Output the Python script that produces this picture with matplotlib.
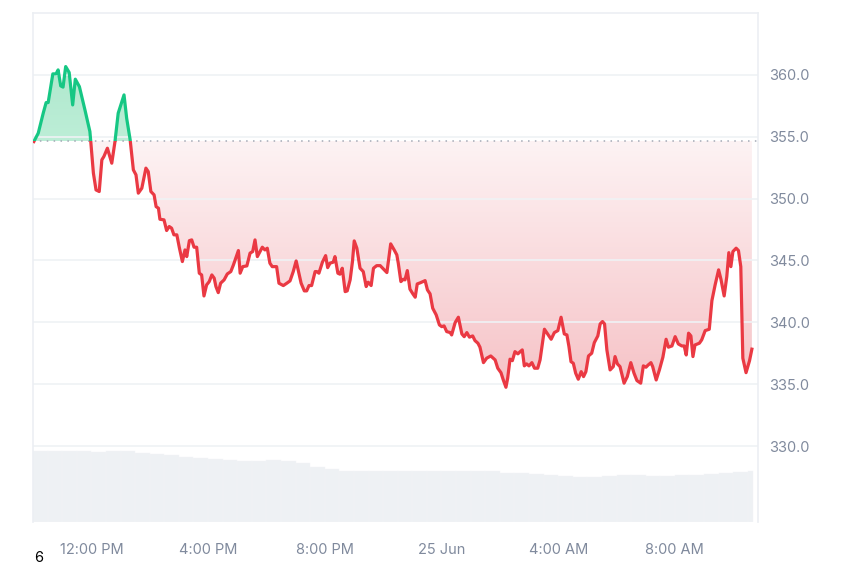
import numpy as np
import matplotlib.pyplot as plt
from matplotlib.path import Path
from matplotlib.patches import Rectangle
from matplotlib.colors import LinearSegmentedColormap

plt.rcParams['font.family'] = ['Inter', 'DejaVu Sans']

# hours since 24 Jun 10:00
hours = [0.03, 0.18, 0.35, 0.45, 0.52, 0.68, 0.79, 0.86, 0.95, 1.03, 1.12, 1.24, 1.36, 1.45, 1.59,
         1.78, 1.95, 1.98, 2.07, 2.16, 2.27, 2.36, 2.43, 2.55, 2.70, 2.81, 2.92, 3.12, 3.21, 3.33,
         3.44, 3.53, 3.61, 3.73, 3.87, 3.95, 4.04, 4.15, 4.22, 4.30, 4.35, 4.49, 4.58, 4.67, 4.75,
         4.83, 4.93, 5.02, 5.12, 5.21, 5.27, 5.36, 5.44, 5.52, 5.61, 5.70, 5.78, 5.86, 5.95, 6.04,
         6.13, 6.21, 6.27, 6.35, 6.43, 6.55, 6.66, 6.78, 6.87, 7.04, 7.10, 7.19, 7.33, 7.44, 7.53,
         7.61, 7.69, 7.78, 7.86, 7.95, 8.03, 8.12, 8.20, 8.35, 8.43, 8.58, 8.70, 8.81, 8.92, 9.02,
         9.10, 9.19, 9.30, 9.38, 9.46, 9.55, 9.67, 9.73, 9.80, 9.92, 10.03, 10.10, 10.18, 10.29, 10.35,
         10.45, 10.52, 10.60, 10.70, 10.77, 10.87, 10.95, 11.01, 11.10, 11.21, 11.32, 11.42, 11.49, 11.59, 11.67,
         11.78, 11.90, 12.04, 12.13, 12.26, 12.38, 12.47, 12.52, 12.61, 12.69, 12.75, 12.83, 12.92, 13.02, 13.10,
         13.17, 13.29, 13.44, 13.52, 13.61, 13.70, 13.82, 13.93, 14.01, 14.09, 14.18, 14.30, 14.35, 14.47, 14.58,
         14.70, 14.78, 14.87, 14.96, 15.07, 15.15, 15.25, 15.32, 15.44, 15.55, 15.69, 15.84, 15.93, 16.04, 16.12,
         16.21, 16.27, 16.35, 16.43, 16.52, 16.62, 16.70, 16.77, 16.84, 16.92, 17.00, 17.10, 17.19, 17.30, 17.38,
         17.53, 17.64, 17.76, 17.87, 17.99, 18.10, 18.21, 18.30, 18.37, 18.44, 18.52, 18.60, 18.69, 18.79, 18.87,
         18.95, 19.04, 19.15, 19.24, 19.36, 19.44, 19.52, 19.59, 19.67, 19.78, 19.89, 19.95, 20.03, 20.12, 20.26,
         20.37, 20.49, 20.60, 20.70, 20.83, 20.92, 21.01, 21.09, 21.18, 21.24, 21.36, 21.47, 21.59, 21.70, 21.78,
         21.90, 22.01, 22.12, 22.24, 22.32, 22.39, 22.47, 22.55, 22.62, 22.69, 22.84, 22.92, 23.04, 23.18, 23.27,
         23.38, 23.50, 23.58, 23.69, 23.78, 23.85, 23.92, 23.99, 24.10, 24.18, 24.26, 24.33, 24.44, 24.56, 24.64]

price = [354.61, 355.29, 356.90, 357.76, 357.76, 360.08, 360.08, 360.40, 359.11, 359.01, 360.67, 360.19, 357.57, 359.65, 359.05,
         357.17, 355.42, 354.61, 352.06, 350.70, 350.57, 353.13, 353.40, 354.07, 352.86, 354.61, 356.90, 358.38, 356.50, 354.75,
         352.32, 351.92, 350.44, 350.84, 352.46, 352.18, 350.57, 350.30, 349.35, 349.22, 348.33, 348.28, 347.42, 347.74, 347.61,
         347.07, 347.07, 345.99, 344.91, 345.85, 345.31, 346.60, 346.66, 346.07, 346.07, 343.97, 343.83, 342.13, 343.02, 343.29,
         343.83, 343.57, 342.89, 342.40, 343.16, 343.43, 343.91, 344.10, 344.64, 345.80, 343.97, 344.50, 344.56, 345.59, 345.72,
         346.66, 345.31, 345.72, 346.07, 345.85, 345.99, 344.78, 344.50, 344.50, 343.16, 342.97, 343.16, 343.35, 344.10, 344.96,
         344.10, 343.16, 342.54, 342.54, 342.97, 342.97, 344.10, 344.10, 343.97, 344.86, 345.39, 344.42, 344.78, 344.86, 345.31,
         343.97, 343.89, 344.37, 342.48, 342.54, 343.43, 344.91, 346.58, 345.99, 344.37, 344.10, 342.89, 343.24, 342.97, 344.37,
         344.58, 344.58, 344.24, 344.02, 346.34, 345.85, 345.45, 344.78, 343.29, 343.48, 343.43, 344.18, 342.68, 342.30, 342.03,
         343.10, 343.21, 343.37, 342.62, 342.30, 341.14, 340.60, 339.79, 339.65, 339.71, 339.25, 339.17, 338.98, 339.98, 340.41,
         339.06, 338.84, 339.17, 338.80, 338.90, 338.52, 338.31, 337.99, 336.74, 337.10, 337.28, 336.96, 336.29, 335.93, 335.34,
         334.75, 335.48, 337.02, 336.90, 337.63, 337.45, 337.63, 337.77, 336.48, 336.64, 336.48, 336.74, 336.29, 336.29, 336.96,
         339.44, 339.06, 338.63, 339.17, 339.33, 340.41, 339.06, 338.98, 338.04, 336.82, 336.69, 335.89, 335.40, 336.01, 335.61,
         336.01, 337.28, 337.50, 338.36, 338.90, 339.87, 340.06, 339.87, 337.77, 336.15, 336.42, 337.23, 336.64, 336.42, 335.08,
         335.61, 336.74, 335.89, 335.29, 335.08, 336.48, 336.37, 336.56, 336.74, 336.42, 335.34, 336.15, 337.18, 338.63, 337.99,
         338.09, 338.84, 338.25, 338.09, 338.09, 337.36, 339.12, 338.90, 337.23, 338.17, 338.31, 338.58, 339.33, 339.44, 341.75,
         343.02, 344.24, 343.48, 342.13, 343.69, 345.63, 344.50, 345.72, 345.99, 345.80, 344.50, 337.10, 335.93, 336.90, 337.83]

open_price = 354.65

vol_hours = np.arange(0, 24.6, 0.5)
volume = [1.42, 1.42, 1.42, 1.42, 1.41, 1.42, 1.42, 1.39, 1.36, 1.34, 1.30, 1.28, 1.26, 1.24, 1.23,
          1.22, 1.24, 1.23, 1.18, 1.10, 1.06, 1.03, 1.02, 1.02, 1.02, 1.02, 1.02, 1.02, 1.02, 1.02,
          1.02, 1.02, 0.99, 0.98, 0.96, 0.95, 0.93, 0.91, 0.91, 0.93, 0.94, 0.94, 0.93, 0.92, 0.94,
          0.95, 0.96, 0.98, 1.00, 1.03]

tick_hours = [2, 6, 10, 14, 18, 22]
tick_labels = ['12:00 PM', '4:00 PM', '8:00 PM', '25 Jun', '4:00 AM', '8:00 AM']

green = '#16c784'
red = '#ea3943'
grey = '#808a9d'
grid_c = '#eff2f5'

x = np.array(hours)
y = np.array(price)
y0, y1 = 323.86, 365.0
x1 = 24.85

fig = plt.figure(figsize=(8.5, 5.67), dpi=100)
ax = fig.add_axes([33/850, 1 - 522/567, (758 - 33)/850, (522 - 13)/567])

# volume in the bottom part, own scale
axv = ax.twinx()
widths = np.full(len(vol_hours), 0.5)
widths[-1] = 0.18
axv.bar(vol_hours, volume, width=widths, color='#eef1f4', align='edge',
        edgecolor='#f3f5f7', linewidth=0.3, zorder=1)
axv.set_ylim(0, 10.18)
axv.set_yticks([])
axv.set_zorder(0)
ax.set_zorder(1)
ax.patch.set_visible(False)
for s in axv.spines.values():
    s.set_visible(False)

ax.set_xlim(0, x1)
ax.set_ylim(y0, y1)

# gradient fills clipped to the area between line and open price
red_cmap = LinearSegmentedColormap.from_list('r', ['#f6c2c6', '#fdf3f4'])
green_cmap = LinearSegmentedColormap.from_list('g', ['#bdeed7', '#aee8cd'])
grad = np.linspace(0, 1, 256).reshape(-1, 1)

fb_r = ax.fill_between(x, y, open_price, where=y <= open_price, interpolate=True,
                       facecolor='none', edgecolor='none')
fb_g = ax.fill_between(x, y, open_price, where=y >= open_price, interpolate=True,
                       facecolor='none', edgecolor='none')
im_r = ax.imshow(grad, cmap=red_cmap, aspect='auto', origin='lower',
                 extent=[0, x1, 334.5, open_price], zorder=1)
im_r.set_clip_path(Path.make_compound_path(*fb_r.get_paths()), ax.transData)
im_g = ax.imshow(grad, cmap=green_cmap, aspect='auto', origin='lower',
                 extent=[0, x1, open_price, 361], zorder=1)
im_g.set_clip_path(Path.make_compound_path(*fb_g.get_paths()), ax.transData)
ax.set_xlim(0, x1)
ax.set_ylim(y0, y1)

ax.axhline(open_price, color='#a3a9b5', lw=1.1, ls=(0, (1, 3.5)), zorder=2)

lg, = ax.plot(x, y, color=green, lw=2.3, zorder=3, solid_joinstyle='round')
lg.set_clip_path(Rectangle((0, open_price), x1, y1 - open_price, transform=ax.transData))
lr, = ax.plot(x, y, color=red, lw=2.3, zorder=3, solid_joinstyle='round')
lr.set_clip_path(Rectangle((0, y0), x1, open_price - y0, transform=ax.transData))

ax.set_yticks([330, 335, 340, 345, 350, 355, 360])
ax.set_yticklabels([f'{v:.1f}' for v in [330, 335, 340, 345, 350, 355, 360]])
ax.yaxis.tick_right()
ax.grid(axis='y', color=grid_c, lw=1.2, zorder=0)
ax.set_xticks(tick_hours)
ax.set_xticklabels(tick_labels)
ax.tick_params(axis='both', length=0, colors=grey, labelsize=10.5)
ax.tick_params(axis='x', pad=15)
ax.tick_params(axis='y', pad=8)

for side in ['left', 'right', 'top']:
    ax.spines[side].set_color('#eceff3')
    ax.spines[side].set_linewidth(1.2)
ax.spines['bottom'].set_visible(False)

fig.text(34/850, 1 - 565/567, '6', fontsize=10.5, color='black', va='bottom', ha='left')

fig.savefig('out.png', dpi=100)
